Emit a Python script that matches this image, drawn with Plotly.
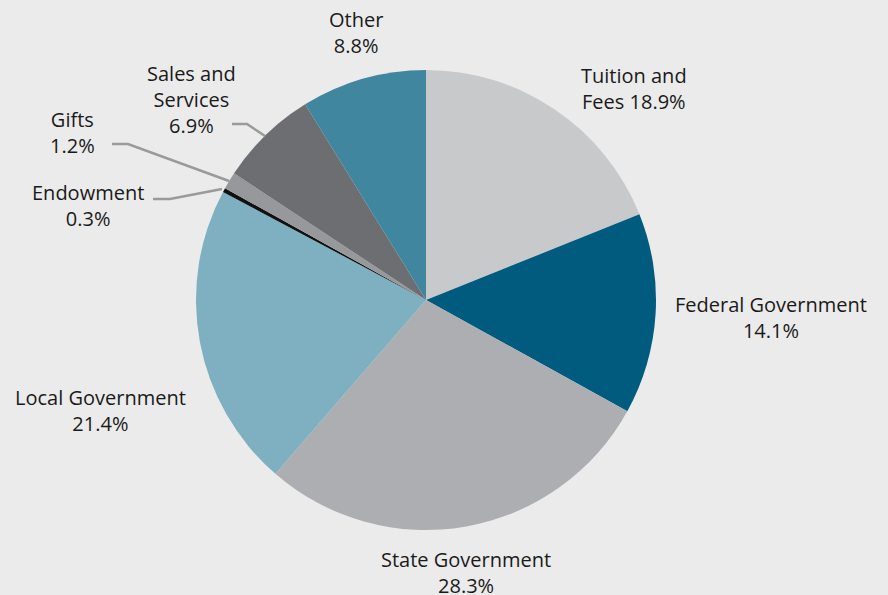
import plotly.graph_objects as go

categories = ["Tuition and Fees", "Federal Government", "State Government", "Local Government",
              "Endowment", "Gifts", "Sales and Services", "Other"]
values = [18.9, 14.1, 28.3, 21.4, 0.3, 1.2, 6.9, 8.8]
colors = ["#c8c9cb", "#005b7f", "#adaeb2", "#7fb0c1", "#111111", "#97989c", "#6d6e72", "#40869f"]
label_texts = ["Tuition and<br>Fees 18.9%", "Federal Government<br>14.1%", "State Government<br>28.3%",
               "Local Government<br>21.4%", "Endowment<br>0.3%", "Gifts<br>1.2%",
               "Sales and<br>Services<br>6.9%", "Other<br>8.8%"]
# label centre positions in pixels (x, y from top)
label_pos = [(634, 88), (771, 317), (466, 572), (100, 410), (88, 205), (72, 132), (191, 100), (356, 32)]

W, H = 888, 595
ML, MR, MT, MB = 0, 36, 70, 65
PW, PH = W - ML - MR, H - MT - MB


def px2paper(x, y):
    return (x - ML) / PW, (H - MB - y) / PH


fig = go.Figure(go.Pie(
    labels=categories, values=values, sort=False, direction="clockwise", rotation=0,
    marker=dict(colors=colors, line=dict(width=0)), textinfo="none", showlegend=False,
))

annotations = []
for t, (px, py) in zip(label_texts, label_pos):
    ax, ay = px2paper(px, py)
    annotations.append(dict(x=ax, y=ay, xref="paper", yref="paper", text=t,
                            showarrow=False, xanchor="center", yanchor="middle", align="center",
                            font=dict(size=20, color="#1a1a1a", family="Open Sans")))

leaders = [
    [(232, 124), (247, 124), (265, 136)],
    [(112, 144), (128, 144), (229, 181)],
    [(153, 199), (170, 199), (222, 189)],
]
shapes = []
for pts in leaders:
    path = "M " + " L ".join("{:.5f},{:.5f}".format(*px2paper(x, y)) for x, y in pts)
    shapes.append(dict(type="path", xref="paper", yref="paper", path=path,
                       line=dict(color="#9a9a9a", width=2.5)))

fig.update_layout(
    width=W, height=H, paper_bgcolor="#ebebeb", plot_bgcolor="#ebebeb",
    margin=dict(l=ML, r=MR, t=MT, b=MB),
    annotations=annotations, shapes=shapes,
)
fig.write_html("out.html", config={"displayModeBar": False},
               post_script="document.body.style.margin='0';")
